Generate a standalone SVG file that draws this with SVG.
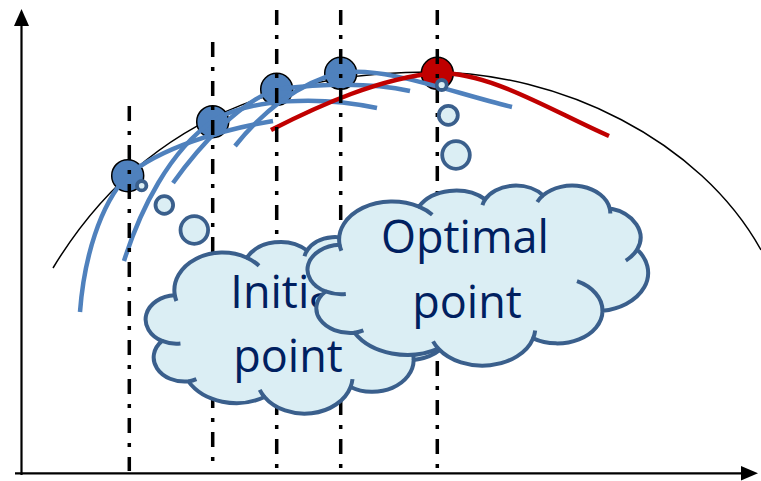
<svg xmlns="http://www.w3.org/2000/svg" width="761" height="481" viewBox="0 0 761 481">
<defs>
<style>
.axis{stroke:#000;stroke-width:2.2;fill:none}
.head{fill:#000}
.curve{fill:none;stroke:#000;stroke-width:1.5}
.model{fill:none;stroke:#4F81BD;stroke-width:4.5;stroke-linecap:butt}
.best{fill:none;stroke:#C00000;stroke-width:4.5}
.pt{fill:#4F81BD;stroke:#000;stroke-width:1.5}
.opt{fill:#C00000;stroke:#000;stroke-width:1.5}
.dd{stroke:#000;stroke-width:3.5;stroke-dasharray:15 10 4 10;fill:none}
.bub{fill:#DBEEF4;stroke:#3A5F8C;stroke-width:3.8}
.cloud{fill:#DBEEF4;stroke:#3A5F8C;stroke-width:4;stroke-linejoin:round}
.crease{fill:none;stroke:#3A5F8C;stroke-width:4}
.lbl{font-family:"Open Sans","Liberation Sans",sans-serif;font-size:45px;fill:#002060;text-anchor:middle}
</style>
</defs>

<g id="axes">
<line class="axis" x1="21.5" y1="475" x2="21.5" y2="24"/>
<polygon class="head" points="21.5,9 14,26 29,26"/>
<line class="axis" x1="15" y1="473.3" x2="744" y2="473.3"/>
<polygon class="head" points="758,473.3 741,466 741,480.6"/>
</g>

<g id="objective">
<path class="curve" d="M53,268 C100,190 200,72 430,72 C560,72 700,140 761,250"/>
</g>

<g id="points">
<circle id="p1" class="pt" cx="127.7" cy="175.7" r="16"/>
<circle id="p2" class="pt" cx="212.7" cy="121.7" r="16"/>
<circle id="p3" class="pt" cx="276.7" cy="89.3" r="16"/>
<circle id="p4" class="pt" cx="340.7" cy="73.3" r="16"/>
<circle id="p5" class="opt" cx="437.3" cy="73.3" r="16"/>
</g>

<g id="connectors">
<path class="model" d="M80,312 C84,258 100,205 127,176 C160,148 220,130 273,121"/>
<path class="model" d="M124,261 C140,210 170,150 213,121 C250,98 320,96 377,108"/>
<path class="model" d="M173,183 C200,145 240,102 277,89 C320,84 370,82 410,91"/>
<path class="model" d="M235,146 C262,112 300,82 340,73 C385,66 450,92 512,107"/>
<path class="best" d="M271,130 C320,105 380,78 437,73 C490,72 550,110 609,136"/>
</g>

<g id="iterations">
<line class="dd" x1="129.3" y1="106" x2="129.3" y2="471"/>
<line class="dd" x1="212.7" y1="42" x2="212.7" y2="471"/>
<line class="dd" x1="276.7" y1="10" x2="276.7" y2="471"/>
<line class="dd" x1="340.7" y1="10" x2="340.7" y2="471"/>
<line class="dd" x1="437.3" y1="10" x2="437.3" y2="471"/>
</g>

<g id="bubbles">
<circle class="bub" cx="141.7" cy="185.7" r="4.7"/>
<circle class="bub" cx="164.3" cy="205" r="8.8"/>
<circle class="bub" cx="194.3" cy="230" r="13.8"/>
<circle class="bub" cx="441.7" cy="85" r="5"/>
<circle class="bub" cx="448.3" cy="115.3" r="9.5"/>
<circle class="bub" cx="456" cy="155" r="13.8"/>
</g>

<g id="initial">
<path class="cloud" d="M174.81,295.20 A48.14,37.54 0 0 1 246.85,257.75 A38.01,29.69 0 0 1 307.10,250.53 A31.11,24.29 0 0 1 359.70,246.65 A34.62,26.95 0 0 1 420.20,259.30 A38.01,29.72 0 0 1 445.14,299.69 A48.29,37.67 0 0 1 413.67,359.91 A41.24,32.14 0 0 1 350.59,386.93 A48.14,37.65 0 0 1 264.50,396.94 A55.04,43.08 0 0 1 188.40,381.44 A31.08,24.18 0 0 1 162.06,340.90 A30.98,24.29 0 0 1 174.81,295.20 Z"/>
<path class="crease" d="M180.45,343.44 A30.98,24.29 0 0 1 162.06,340.90 M196.40,379.08 A31.08,24.18 0 0 1 188.40,381.44 M264.50,396.94 A48.14,37.65 0 0 1 259.73,389.84 M352.50,379.13 A48.14,37.65 0 0 1 350.59,386.93 M390.47,330.77 A41.24,32.14 0 0 1 413.67,359.91 M445.14,299.69 A38.01,29.72 0 0 1 434.83,310.63 M420.20,259.30 A34.62,26.95 0 0 1 420.75,264.48 M354.41,253.25 A34.62,26.95 0 0 1 359.70,246.65 M304.54,256.22 A31.11,24.29 0 0 1 307.10,250.53 M246.85,257.75 A48.14,37.54 0 0 1 259.02,265.68 M176.41,301.01 A48.14,37.54 0 0 1 174.81,295.20"/>
<text class="lbl" x="288" y="308">Initial</text>
<text class="lbl" x="288" y="372">point</text>
</g>

<g id="optimal">
<path class="cloud" d="M339.61,244.87 A52.99,38.29 0 0 1 418.90,206.67 A41.83,30.28 0 0 1 485.21,199.31 A34.24,24.77 0 0 1 543.11,195.35 A38.10,27.49 0 0 1 609.69,208.26 A41.83,30.31 0 0 1 637.15,249.44 A53.16,38.41 0 0 1 602.51,310.86 A45.39,32.78 0 0 1 533.08,338.41 A52.99,38.39 0 0 1 438.33,348.62 A60.58,43.94 0 0 1 354.56,332.82 A34.21,24.66 0 0 1 325.58,291.47 A34.10,24.77 0 0 1 339.61,244.87 Z"/>
<path class="crease" d="M345.82,294.06 A34.10,24.77 0 0 1 325.58,291.47 M363.38,330.40 A34.21,24.66 0 0 1 354.56,332.82 M438.33,348.62 A52.99,38.39 0 0 1 433.07,341.38 M535.18,330.46 A52.99,38.39 0 0 1 533.08,338.41 M576.98,281.14 A45.39,32.78 0 0 1 602.51,310.86 M637.15,249.44 A41.83,30.31 0 0 1 625.80,260.60 M609.69,208.26 A38.10,27.49 0 0 1 610.30,213.53 M537.28,202.08 A38.10,27.49 0 0 1 543.11,195.35 M482.40,205.11 A34.24,24.77 0 0 1 485.21,199.31 M418.90,206.67 A52.99,38.29 0 0 1 432.29,214.75 M341.37,250.79 A52.99,38.29 0 0 1 339.61,244.87"/>
<text class="lbl" x="465" y="253">Optimal</text>
<text class="lbl" x="467" y="318">point</text>
</g>
</svg>
